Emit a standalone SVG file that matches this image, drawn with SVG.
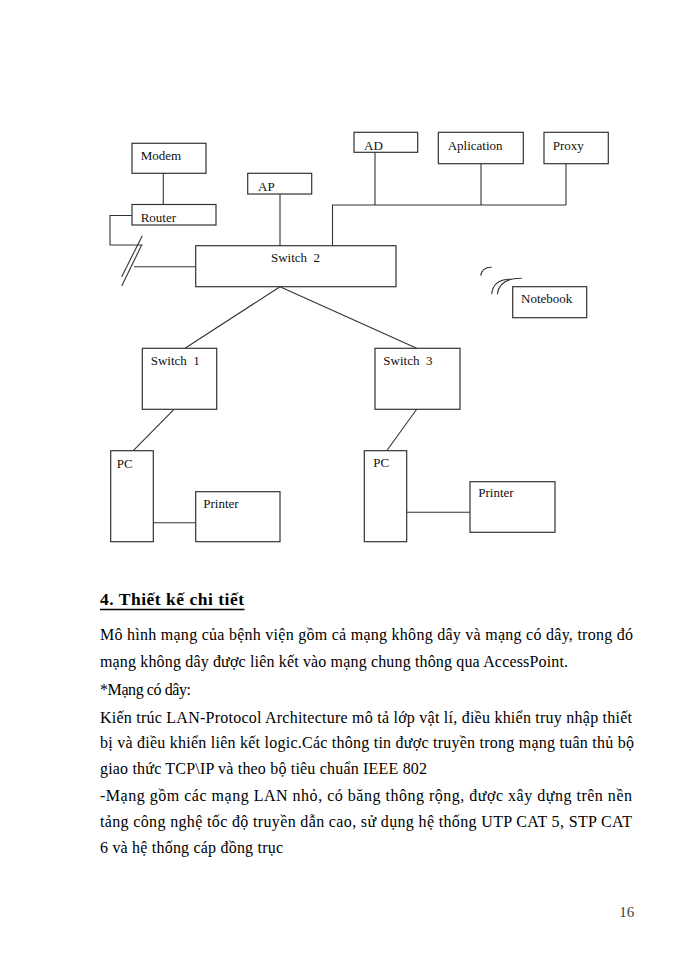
<svg xmlns="http://www.w3.org/2000/svg" width="700" height="960" viewBox="0 0 700 960">
<style>
.box{fill:#fff;stroke:#333;stroke-width:1.2}
.lbl{font-family:"Liberation Serif","Times New Roman",serif;font-size:13px;fill:#111}
.ln{fill:none;stroke:#333;stroke-width:1.1}
.body{font-family:"Liberation Serif","Times New Roman",serif;font-size:16px;fill:#000}
</style>
<rect width="700" height="960" fill="#fff"/>
<g id="connectors">
<line class="ln" x1="163.3" y1="173" x2="163.3" y2="204.5"/>
<polyline class="ln" points="132,215.5 110,215.5 110,245 142.5,245"/>
<line class="ln" x1="142.3" y1="235.7" x2="121.7" y2="276.7"/>
<line class="ln" x1="141.7" y1="245" x2="121.7" y2="286"/>
<line class="ln" x1="134" y1="266.7" x2="195.7" y2="266.7"/>
<line class="ln" x1="280" y1="194" x2="280" y2="245.7"/>
<polyline class="ln" points="332.5,245.7 332.5,205 566,205"/>
<line class="ln" x1="375" y1="152.3" x2="375" y2="205"/>
<line class="ln" x1="481" y1="163.7" x2="481" y2="205"/>
<line class="ln" x1="566" y1="163.7" x2="566" y2="205"/>
<line class="ln" x1="280" y1="286.7" x2="185" y2="348.3"/>
<line class="ln" x1="280" y1="286.7" x2="416.7" y2="348.3"/>
<line class="ln" x1="174" y1="409.3" x2="133.3" y2="450.7"/>
<line class="ln" x1="153.3" y1="522.7" x2="195.7" y2="522.7"/>
<line class="ln" x1="416.7" y1="409.3" x2="386.7" y2="450.7"/>
<line class="ln" x1="406.7" y1="512.3" x2="470" y2="512.3"/>
<path class="ln" d="M480.7,275.7 Q482,267 491.7,267.3"/>
<path class="ln" d="M491.7,294.3 Q493,279 511.7,279.3"/>
<path class="ln" d="M497.3,294.3 Q499,278 521.7,278.3"/>
</g>
<g id="modem"><rect class="box" x="132" y="143.3" width="74" height="30"/><text class="lbl" x="140.7" y="159.5">Modem</text></g>
<g id="router"><rect class="box" x="132" y="204.5" width="84" height="20.5"/><text class="lbl" x="140.7" y="222">Router</text></g>
<g id="ap"><rect class="box" x="247.7" y="173.3" width="64" height="20.7"/><text class="lbl" x="258" y="190.5">AP</text></g>
<g id="ad"><rect class="box" x="354" y="132.3" width="63.7" height="20"/><text class="lbl" x="364" y="149.5">AD</text></g>
<g id="aplication"><rect class="box" x="438.3" y="132.3" width="85" height="31.4"/><text class="lbl" x="447.7" y="150">Aplication</text></g>
<g id="proxy"><rect class="box" x="544" y="132.3" width="64.3" height="31.4"/><text class="lbl" x="552.7" y="150">Proxy</text></g>
<g id="switch2"><rect class="box" x="195.7" y="245.7" width="200.3" height="41"/><text class="lbl" x="271" y="262.3" xml:space="preserve">Switch  2</text></g>
<g id="notebook"><rect class="box" x="512.7" y="286.7" width="74" height="31"/><text class="lbl" x="521" y="303.3">Notebook</text></g>
<g id="switch1"><rect class="box" x="142.3" y="348.3" width="74.4" height="61"/><text class="lbl" x="150.7" y="365" xml:space="preserve">Switch  1</text></g>
<g id="switch3"><rect class="box" x="375" y="348.3" width="85" height="61"/><text class="lbl" x="383.3" y="365" xml:space="preserve">Switch  3</text></g>
<g id="pc1"><rect class="box" x="110.7" y="450.7" width="42.6" height="91"/><text class="lbl" x="116.7" y="467.5">PC</text></g>
<g id="printer1"><rect class="box" x="195.7" y="491.7" width="84.3" height="50"/><text class="lbl" x="203.3" y="507.7">Printer</text></g>
<g id="pc2"><rect class="box" x="364.3" y="450.7" width="42.4" height="91"/><text class="lbl" x="373.3" y="467.3">PC</text></g>
<g id="printer2"><rect class="box" x="470" y="481.7" width="85" height="50.6"/><text class="lbl" x="478.3" y="497.3">Printer</text></g>
<g id="text">
<text x="100" y="605" style="font-family:'Liberation Serif','Times New Roman',serif;font-size:17.5px;font-weight:bold" textLength="144" lengthAdjust="spacing">4. Thiết kế chi tiết</text>
<line x1="100" y1="609.5" x2="244.5" y2="609.5" stroke="#000" stroke-width="1.4"/>
<text class="body" x="100" y="640" textLength="533" lengthAdjust="spacing">Mô hình mạng của bệnh viện gồm cả mạng không dây và mạng có dây, trong đó</text>
<text class="body" x="100" y="667" textLength="468" lengthAdjust="spacing">mạng không dây được liên kết vào mạng chung thông qua AccessPoint.</text>
<text class="body" x="100" y="695" textLength="91" lengthAdjust="spacing">*Mạng có dây:</text>
<text class="body" x="100" y="723" textLength="532" lengthAdjust="spacing">Kiến trúc LAN-Protocol Architecture mô tả lớp vật lí, điều khiển truy nhập thiết</text>
<text class="body" x="100" y="748" textLength="534" lengthAdjust="spacing">bị và điều khiển liên kết logic.Các thông tin được truyền trong mạng tuân thủ bộ</text>
<text class="body" x="100" y="774" textLength="327" lengthAdjust="spacing">giao thức TCP\IP và theo bộ tiêu chuẩn IEEE 802</text>
<text class="body" x="100" y="801" textLength="532" lengthAdjust="spacing">-Mạng gồm các mạng LAN nhỏ, có băng thông rộng, được xây dựng trên nền</text>
<text class="body" x="100" y="827" textLength="532" lengthAdjust="spacing">tảng công nghệ tốc độ truyền dẫn cao, sử dụng hệ thống UTP CAT 5, STP CAT</text>
<text class="body" x="100" y="853" textLength="183" lengthAdjust="spacing">6 và hệ thống cáp đồng trục</text>
<text x="619.3" y="916.5" style="font-family:'Liberation Serif','Times New Roman',serif;font-size:15px;fill:#444">16</text>
</g>
</svg>
